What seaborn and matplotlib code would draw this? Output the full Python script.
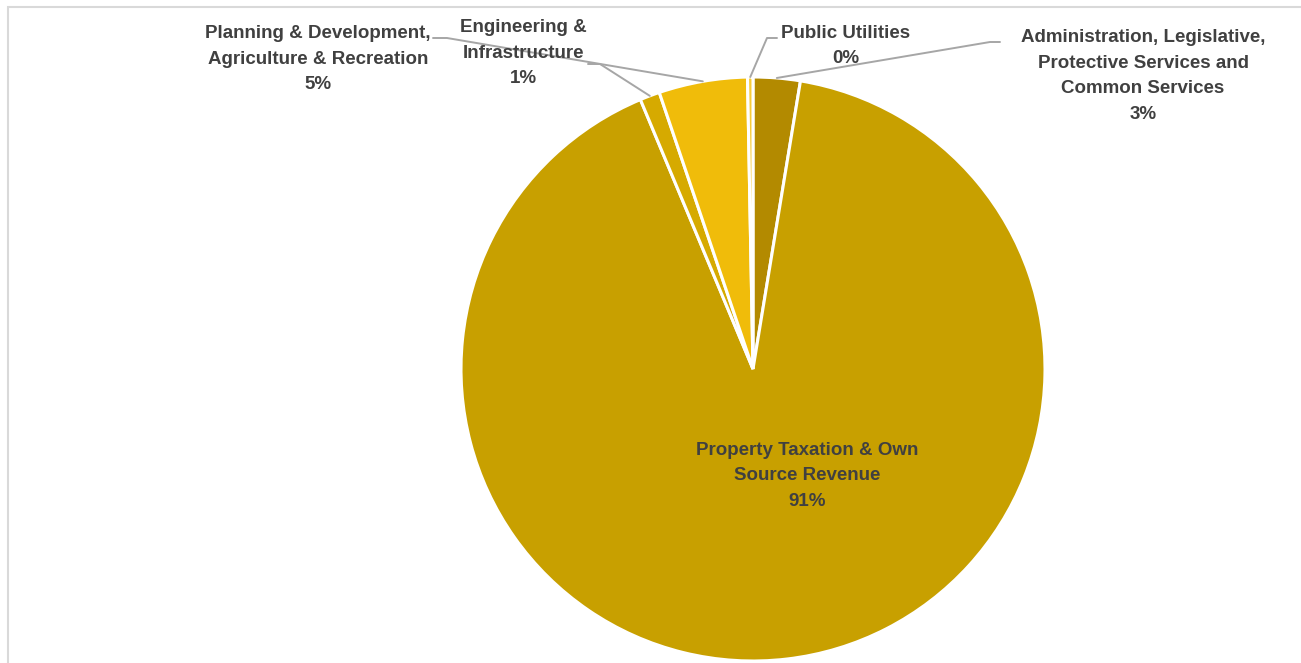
import matplotlib
matplotlib.use("Agg")
import matplotlib.pyplot as plt
import seaborn as sns
import numpy as np
from matplotlib.lines import Line2D
from matplotlib.patches import Rectangle

# ---- data ----
categories = [
    "Administration, Legislative,\nProtective Services and\nCommon Services",
    "Property Taxation & Own\nSource Revenue",
    "Engineering &\nInfrastructure",
    "Planning & Development,\nAgriculture & Recreation",
    "Public Utilities",
]
values = [2.6, 91.1, 1.1, 4.9, 0.3]
colors = ["#B38A00", "#C8A000", "#D6AA00", "#F0BC0A", "#F7CC3A"]

W, H = 1301, 663
sns.set_theme(style="white")
plt.rcParams["font.family"] = ["Liberation Sans", "DejaVu Sans"]

fig = plt.figure(figsize=(W / 100, H / 100), dpi=100)
fig.patch.set_facecolor("white")

# chart border (light gray, cropped)
fig.add_artist(Rectangle((8 / W, -0.05), 1.2, (H - 7) / H + 0.05, transform=fig.transFigure,
                         fill=False, edgecolor="#D9D9D9", linewidth=1.5))

cx, cy, r = 753, 369, 292
ax = fig.add_axes([(cx - r) / W, (H - cy - r) / H, 2 * r / W, 2 * r / H])
wedges, _ = ax.pie(values, colors=colors, startangle=90, counterclock=False,
                   wedgeprops=dict(edgecolor="white", linewidth=2.2))
ax.set_xlim(-1, 1)
ax.set_ylim(-1, 1)
ax.set_aspect("equal")
ax.axis("off")

txtcol = "#404040"
fs = 13.5

def pct(v):
    return f"{int(round(v))}%"

# label layout: (center x px, center y px from top)
label_pos = [(1143, 76), (807, 476), (523, 53), (318, 59), (846, 46)]
# leader start points (text side): (x0, y0, x1) -> horizontal from x0 to x1 then to wedge
leaders = {0: (1000, 42, 990), 2: (588, 64, 600), 3: (433, 38, 447), 4: (777, 38, 767)}

for i, (cat, v) in enumerate(zip(categories, values)):
    lx, ly = label_pos[i]
    fig.text(lx / W, (H - ly) / H, f"{cat}\n{pct(v)}", ha="center", va="center",
             fontsize=fs, fontweight="bold", color=txtcol, linespacing=1.66)
    if i in leaders:
        w = wedges[i]
        th = np.deg2rad((w.theta1 + w.theta2) / 2)
        px, py = ax.transData.transform((np.cos(th), np.sin(th)))
        x0, y0, x1 = leaders[i]
        xs = [x0 / W, x1 / W, px / W]
        ys = [(H - y0) / H, (H - y0) / H, py / H]
        fig.add_artist(Line2D(xs, ys, transform=fig.transFigure, color="#A6A6A6", linewidth=1.4))

fig.savefig("out.png", dpi=100)
